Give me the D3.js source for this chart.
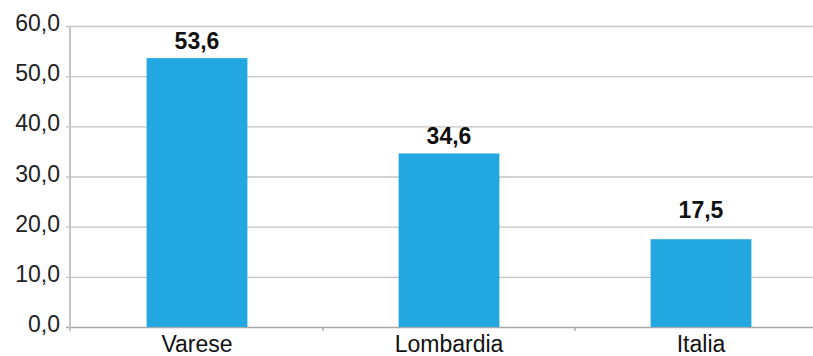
<!DOCTYPE html>
<html lang="it">
<head>
<meta charset="utf-8">
<title>Confronto</title>
<script src="https://d3js.org/d3.v7.min.js"></script>
<style>
  body { margin: 0; background: #fff; }
  text { font-family: "Liberation Sans", Arial, sans-serif; }
</style>
</head>
<body>
<script>
// data
var categories = ["Varese", "Lombardia", "Italia"];
var values = [53.6, 34.6, 17.5];
var yTicks = [0, 10, 20, 30, 40, 50, 60];

var width = 813, height = 356;
var plot = {left: 71, right: 827, top: 26, bottom: 327};

var svg = d3.select("body").append("svg")
  .attr("width", width)
  .attr("height", height);

var x = d3.scaleBand()
  .domain(categories)
  .range([plot.left, plot.right])
  .paddingInner(0.6)
  .paddingOuter(0.3);

var xb = d3.scaleBand() // full bands, for the separator ticks
  .domain(categories)
  .range([plot.left, plot.right]);

var y = d3.scaleLinear()
  .domain([0, 60])
  .range([plot.bottom, plot.top]);

var fmt = function (v) { return d3.format(".1f")(v).replace(".", ","); };

// gridlines
svg.append("g").selectAll("line")
  .data(yTicks)
  .join("line")
  .attr("x1", plot.left - 5)
  .attr("x2", width)
  .attr("y1", function (d) { return y(d) + 0.5; })
  .attr("y2", function (d) { return y(d) + 0.5; })
  .attr("stroke", function (d) { return d === 0 ? "#a9a9a9" : "#c4c4c4"; })
  .attr("stroke-width", 1.4);

// y axis line
svg.append("line")
  .attr("x1", plot.left - 1).attr("x2", plot.left - 1)
  .attr("y1", plot.top).attr("y2", plot.bottom + 4)
  .attr("stroke", "#c4c4c4")
  .attr("stroke-width", 2);

// category separator ticks
svg.append("g").selectAll("line")
  .data(categories.slice(1))
  .join("line")
  .attr("x1", function (d) { return xb(d); })
  .attr("x2", function (d) { return xb(d); })
  .attr("y1", plot.bottom)
  .attr("y2", plot.bottom + 4)
  .attr("stroke", "#a9a9a9")
  .attr("stroke-width", 1.4);

// y tick labels
svg.append("g").selectAll("text")
  .data(yTicks)
  .join("text")
  .attr("x", plot.left - 11)
  .attr("y", function (d) { return y(d) + 5; })
  .attr("text-anchor", "end")
  .attr("fill", "#222")
  .style("font-size", "23px")
  .text(fmt);

// bars
var rows = categories.map(function (c, i) { return {name: c, value: values[i]}; });

svg.append("g").selectAll("rect")
  .data(rows)
  .join("rect")
  .attr("x", function (d) { return x(d.name); })
  .attr("y", function (d) { return y(d.value); })
  .attr("width", x.bandwidth())
  .attr("height", function (d) { return y(0) - y(d.value); })
  .attr("fill", "#22a7e0");

// value labels (Italia label sits higher in the original)
var lift = {Italia: 21};
svg.append("g").selectAll("text")
  .data(rows)
  .join("text")
  .attr("x", function (d) { return x(d.name) + x.bandwidth() / 2; })
  .attr("y", function (d) { return y(d.value) - (lift[d.name] || 9.5); })
  .attr("text-anchor", "middle")
  .attr("fill", "#111")
  .style("font-size", "23px")
  .style("font-weight", "bold")
  .text(function (d) { return fmt(d.value); });

// category labels
svg.append("g").selectAll("text")
  .data(categories)
  .join("text")
  .attr("x", function (d) { return x(d) + x.bandwidth() / 2; })
  .attr("y", plot.bottom + 25)
  .attr("text-anchor", "middle")
  .attr("fill", "#111")
  .style("font-size", "23px")
  .text(function (d) { return d; });
</script>
</body>
</html>
